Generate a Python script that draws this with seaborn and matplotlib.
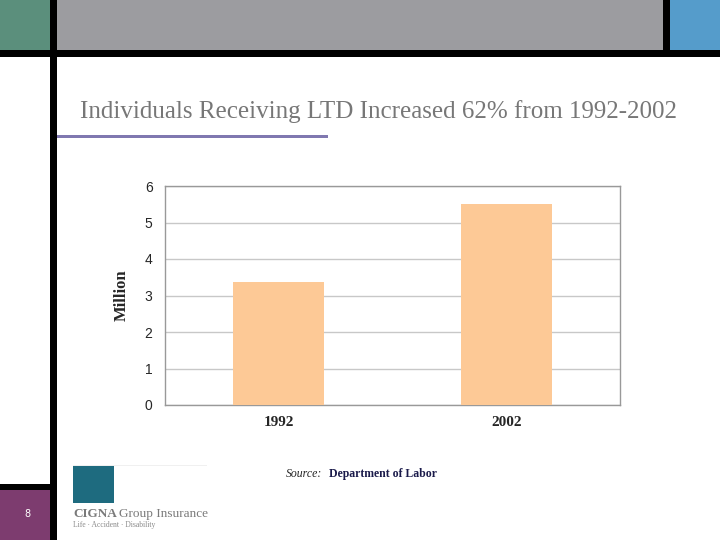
import pandas as pd
import seaborn as sns
import matplotlib.pyplot as plt
from matplotlib.patches import Rectangle

W, H = 720, 540

years = ["1992", "2002"]
recipients_million = [3.38, 5.5]
y_ticks = [0, 1, 2, 3, 4, 5, 6]

TITLE = "Individuals Receiving LTD Increased 62% from 1992-2002"
BAR_COLOR = "#fdc996"


def px_rect(fig, x0, y0, x1, y1, color):
    # rectangle given in pixel coords, y measured from the top
    fig.patches.append(Rectangle((x0 / W, 1 - y1 / H), (x1 - x0) / W, (y1 - y0) / H,
                                 transform=fig.transFigure, color=color, lw=0, zorder=0))


def main() -> None:
    sns.set_theme(style="white")
    df = pd.DataFrame({"year": years, "million": recipients_million})

    fig = plt.figure(figsize=(7.2, 5.4), dpi=100)
    fig.patch.set_facecolor("white")

    # slide frame decorations
    px_rect(fig, 0, 0, 50, 50, "#5b8f7c")
    px_rect(fig, 57, 0, 663, 50, "#9c9ca0")
    px_rect(fig, 670, 0, 720, 50, "#559ccb")
    px_rect(fig, 0, 50, 720, 57, "black")
    px_rect(fig, 663, 0, 670, 57, "black")
    px_rect(fig, 50, 0, 57, 540, "black")
    px_rect(fig, 0, 484, 57, 490, "black")
    px_rect(fig, 0, 490, 50, 540, "#7d3c6f")
    px_rect(fig, 57, 135, 328, 138, "#8078b0")
    fig.text(27 / W, 1 - 514 / H, "8", color="white", fontsize=7,
             ha="center", va="center", family="DejaVu Sans")

    fig.text(379 / W, 1 - 112 / H, TITLE, color="#777777", fontsize=18,
             ha="center", va="center", family="Liberation Serif")

    # logo
    px_rect(fig, 73, 466, 114, 503, "#1e6b7f")
    px_rect(fig, 73, 465, 207, 466, "#f0f0f0")
    fig.text(73 / W, 1 - 514 / H, "CIGNA", color="#7a7a7a", fontsize=9.5,
             fontweight="bold", ha="left", va="center", family="Liberation Serif")
    fig.text(119 / W, 1 - 514 / H, "Group Insurance", color="#7a7a7a", fontsize=9.5,
             ha="left", va="center", family="Liberation Serif")
    fig.text(73 / W, 1 - 525 / H, "Life · Accident · Disability", color="#8a8a8a",
             fontsize=5.5, ha="left", va="center", family="Liberation Serif")

    fig.text(286 / W, 1 - 474 / H, "Source:", color="#222222", fontsize=8.5,
             style="italic", ha="left", va="center", family="Liberation Serif")
    fig.text(329 / W, 1 - 474 / H, "Department of Labor", color="#1a1a4a", fontsize=8.5,
             fontweight="bold", ha="left", va="center", family="Liberation Serif")

    # chart
    ax = fig.add_axes([165 / W, (H - 405) / H, 455 / W, 219 / H])
    sns.barplot(data=df, x="year", y="million", color=BAR_COLOR, width=0.4,
                saturation=1, linewidth=0, ax=ax, zorder=3)
    ax.set_ylim(0, 6)
    ax.set_xlim(-0.5, 1.5)
    ax.set_yticks(y_ticks)
    ax.set_yticklabels([str(t) for t in y_ticks], fontsize=10, family="Liberation Sans")
    ax.set_xticks([0.5], minor=True)
    ax.tick_params(axis="x", which="minor", length=3, color="#999999", direction="out")
    ax.tick_params(axis="x", which="major", length=0, pad=8)
    ax.tick_params(axis="y", length=3, color="#999999", direction="out", pad=6)
    for lab in ax.get_xticklabels():
        lab.set_family("Liberation Serif")
        lab.set_fontweight("bold")
        lab.set_fontsize(11)
    ax.set_xlabel("")
    ax.set_ylabel("Million", family="Liberation Serif", fontweight="bold",
                  fontsize=12, labelpad=11)
    ax.yaxis.grid(True, color="#c8c8c8", lw=1, zorder=0)
    ax.set_axisbelow(True)
    for s in ax.spines.values():
        s.set_color("#999999")
        s.set_linewidth(1)

    fig.savefig("out.png", dpi=100)
    plt.close(fig)


if __name__ == "__main__":
    main()
